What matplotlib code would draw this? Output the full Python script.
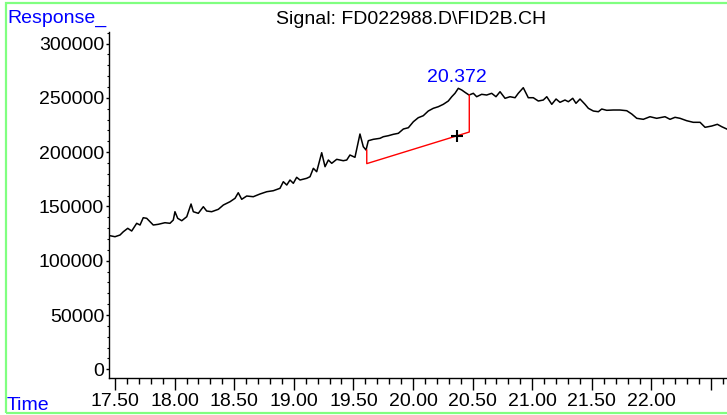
# -*- coding: utf-8 -*-

import numpy as np
import matplotlib.pyplot as plt
from matplotlib.patches import Rectangle
from matplotlib.ticker import MultipleLocator, FixedLocator

plt.rcParams['font.family'] = ['Liberation Sans', 'DejaVu Sans']

# 信号数据 (时间 min, 响应)
time = [17.458, 17.500, 17.542, 17.570, 17.607, 17.640, 17.682, 17.710, 17.737, 17.766,
        17.794, 17.821, 17.863, 17.919, 17.961, 17.989, 18.003, 18.026, 18.060, 18.102,
        18.138, 18.157, 18.199, 18.241, 18.269, 18.311, 18.367, 18.409, 18.465, 18.507,
        18.534, 18.563, 18.605, 18.660, 18.716, 18.773, 18.828, 18.884, 18.912, 18.941,
        18.968, 18.996, 19.024, 19.052, 19.108, 19.136, 19.164, 19.192, 19.234, 19.262,
        19.290, 19.318, 19.360, 19.415, 19.444, 19.471, 19.513, 19.555, 19.583, 19.606,
        19.625, 19.667, 19.723, 19.751, 19.793, 19.835, 19.877, 19.919, 19.961, 20.003,
        20.044, 20.086, 20.128, 20.170, 20.212, 20.254, 20.296, 20.325, 20.352, 20.380,
        20.409, 20.436, 20.470, 20.506, 20.534, 20.576, 20.618, 20.660, 20.696, 20.730,
        20.772, 20.814, 20.856, 20.883, 20.925, 20.967, 21.009, 21.051, 21.093, 21.122,
        21.164, 21.200, 21.233, 21.275, 21.303, 21.340, 21.367, 21.401, 21.443, 21.471,
        21.513, 21.555, 21.583, 21.625, 21.680, 21.736, 21.793, 21.835, 21.877, 21.932,
        21.988, 22.044, 22.114, 22.156, 22.198, 22.240, 22.296, 22.351, 22.408, 22.450,
        22.506, 22.553, 22.590, 22.632]
response = [123020, 122100, 123660, 126700, 129830, 127350, 134440, 132870, 139590, 139040,
            135910, 132870, 133520, 134990, 134440, 137470, 145120, 139040, 136830, 140510,
            152210, 145120, 143640, 149720, 145760, 145120, 147330, 151290, 154330, 157460,
            162610, 156540, 159570, 158930, 161420, 163530, 164450, 166660, 172740, 169700,
            174310, 171270, 176790, 174310, 175870, 177350, 185080, 181950, 199450, 186560,
            192720, 189680, 193370, 192080, 192720, 197330, 195210, 216660, 204970, 201930,
            210500, 211780, 212700, 214180, 215100, 216390, 217310, 221270, 222460, 227990,
            231670, 233510, 237840, 240330, 241800, 244010, 247050, 251010, 254140, 258740,
            257180, 255060, 252570, 254140, 251010, 253220, 252570, 254140, 251010, 255610,
            249540, 251010, 250090, 254140, 259300, 250090, 250090, 247050, 247970, 251010,
            244010, 248890, 245850, 247970, 246410, 249540, 244930, 248890, 244010, 240330,
            237840, 237200, 239680, 238490, 238770, 238770, 238120, 235080, 231120, 230200,
            232590, 231120, 232590, 230200, 232040, 231120, 228910, 227440, 227440, 222830,
            224030, 225600, 223390, 221270]

# 积分基线
base_time = [19.612, 19.612, 20.472, 20.472]
base_resp = [201900, 189400, 218500, 252600]
peak_rt = 20.372
peak_label = '20.372'
mark_resp = 214800

xticks = [17.5, 18.0, 18.5, 19.0, 19.5, 20.0, 20.5, 21.0, 21.5, 22.0, 22.5]
xlabels = ['17.50', '18.00', '18.50', '19.00', '19.50', '20.00', '20.50', '21.00',
           '21.50', '22.00', '']

fig = plt.figure(figsize=(7.27, 4.15), dpi=100)
ax = fig.add_axes([109 / 727, 1 - 378 / 415, 1 - 109 / 727, (378 - 32) / 415])

ax.plot(time, response, color='black', linewidth=1.1)
ax.plot(base_time, base_resp, color='red', linewidth=1.0)
ax.plot([peak_rt], [mark_resp], marker='+', color='black', markersize=9, mew=1.5)
ax.text(peak_rt, 264800, peak_label, color='blue', fontsize=14,
        ha='center', va='baseline')

ax.set_xlim(17.4497, 22.634)
ax.set_ylim(-8000, 310600)

for s in ['top', 'right']:
    ax.spines[s].set_visible(False)
ax.spines['left'].set_linewidth(1.0)
ax.spines['bottom'].set_linewidth(1.0)

ax.xaxis.set_major_locator(FixedLocator(xticks))
ax.set_xticklabels(xlabels)
ax.xaxis.set_minor_locator(MultipleLocator(0.1))
ax.yaxis.set_major_locator(MultipleLocator(50000))
ax.yaxis.set_minor_locator(MultipleLocator(10000))
ax.tick_params(axis='x', which='major', length=8.5, width=1.0, pad=2, labelsize=14)
ax.tick_params(axis='x', which='minor', length=4.3, width=1.0)
ax.tick_params(axis='y', which='major', length=2.5, width=1.0, pad=1, labelsize=14)
ax.tick_params(axis='y', which='minor', length=1.5, width=0.8)

fig.text(7 / 727, 1 - 23 / 415, 'Response_', color='blue', fontsize=14,
         ha='left', va='baseline')
fig.text(7 / 727, 1 - 410 / 415, 'Time', color='blue', fontsize=14,
         ha='left', va='baseline')
fig.text(411 / 727, 1 - 24 / 415, 'Signal: FD022988.D\\FID2B.CH', color='black',
         fontsize=14, ha='center', va='baseline')

# 外框 (右边在图外)
fig.patches.append(Rectangle((5.5 / 727, 1 - 413 / 415), 1.2, (413 - 3.5) / 415,
                             transform=fig.transFigure, fill=False,
                             edgecolor='#80ff80', linewidth=1.6))

plt.savefig('out.png', dpi=100)
